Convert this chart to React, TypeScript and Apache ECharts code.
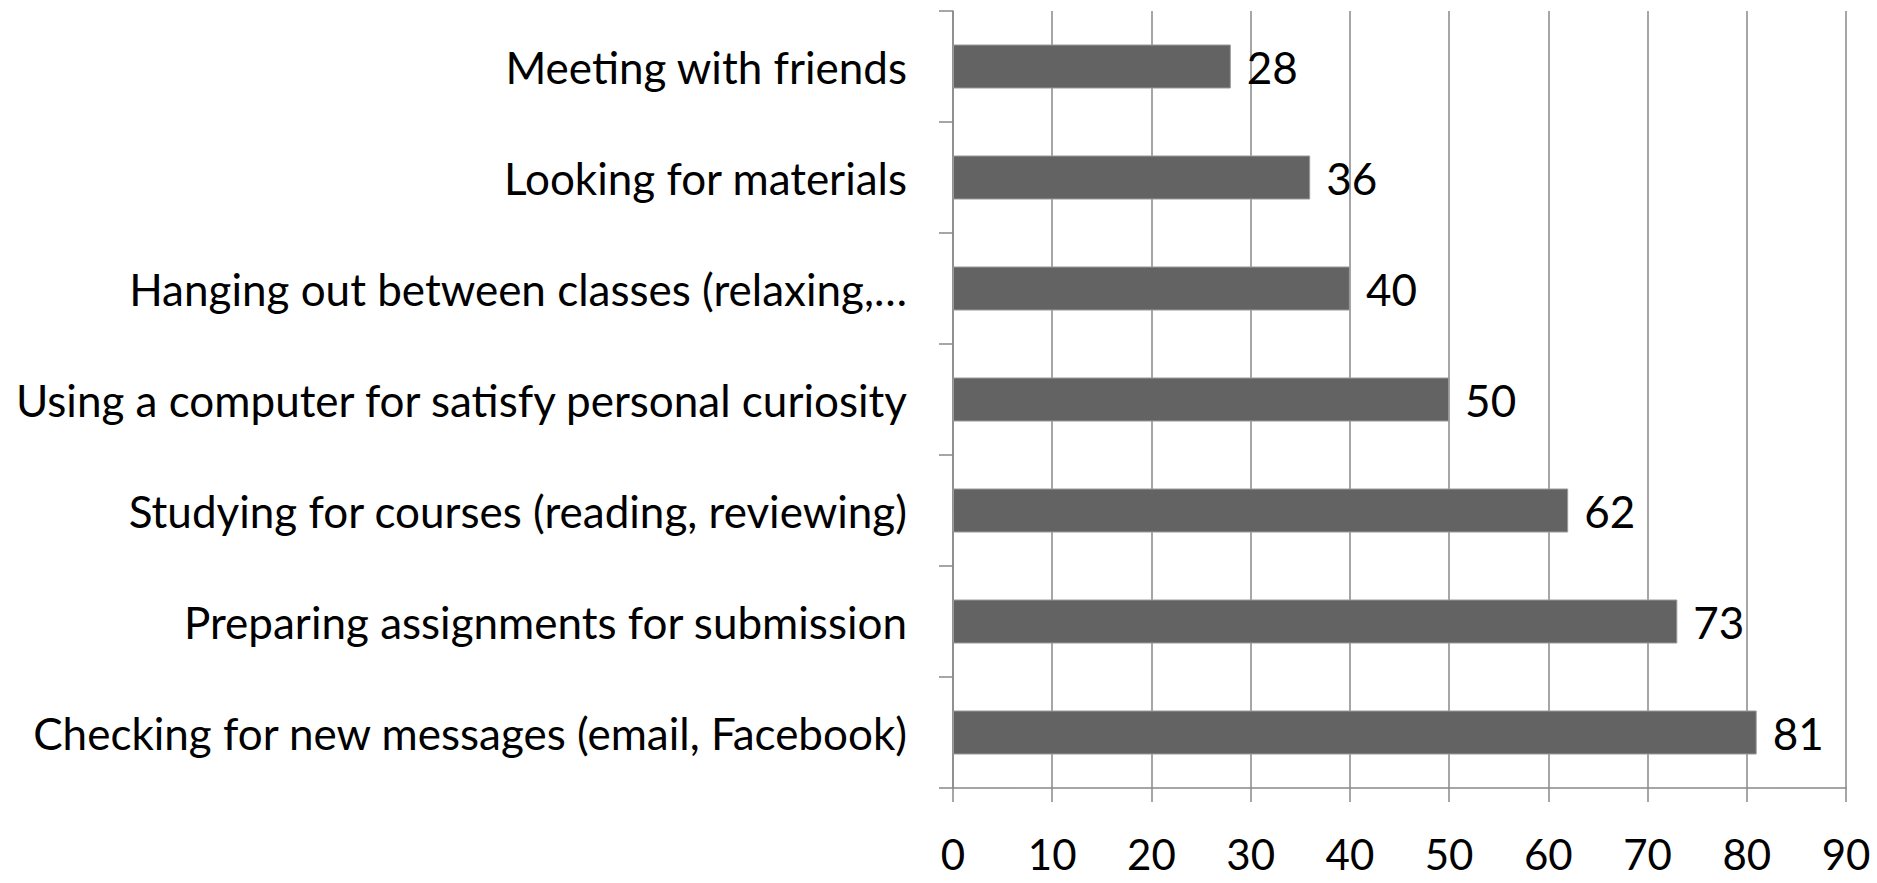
import React, { useEffect, useRef } from "react";
import * as echarts from "echarts";

const categories = [
  "Meeting with friends",
  "Looking for materials",
  "Hanging out between classes (relaxing,…",
  "Using a computer for satisfy personal curiosity",
  "Studying for courses (reading, reviewing)",
  "Preparing assignments for submission",
  "Checking for new messages (email, Facebook)",
];
const values = [28, 36, 40, 50, 62, 73, 81];
const xMin = 0;
const xMax = 90;
const xStep = 10;

const FONT = "Lato";
const GRID_COLOR = "#888888";
const FS = 44;

export default function App() {
  const ref = useRef<HTMLDivElement>(null);
  useEffect(() => {
    if (!ref.current) return;
    const chart = echarts.init(ref.current, undefined, { renderer: "svg" });
    chart.setOption({
      animation: false,
      backgroundColor: "#ffffff",
      grid: { left: 953, right: 31, top: 11, bottom: 95, containLabel: false },
      xAxis: {
        type: "value",
        min: xMin,
        max: xMax,
        interval: xStep,
        axisLine: { show: true, lineStyle: { color: GRID_COLOR, width: 1.5 } },
        axisTick: { show: true, length: 14, lineStyle: { color: GRID_COLOR, width: 1.5 } },
        splitLine: { show: true, lineStyle: { color: GRID_COLOR, width: 1.5 } },
        axisLabel: {
          color: "#000",
          fontFamily: FONT,
          fontSize: 42,
          lineHeight: 40,
          margin: 46,
        },
      },
      yAxis: {
        type: "category",
        inverse: true,
        data: categories,
        axisLine: { show: true, lineStyle: { color: GRID_COLOR, width: 1.5 } },
        axisTick: { show: true, length: 14, alignWithLabel: false, lineStyle: { color: GRID_COLOR, width: 1.5 } },
        splitLine: { show: false },
        axisLabel: { color: "#000", fontFamily: FONT, fontSize: FS, margin: 46 },
      },
      series: [
        {
          type: "bar",
          data: values,
          barWidth: 44,
          itemStyle: { color: "#636363", borderColor: "#9a9a9a", borderWidth: 1 },
          label: {
            show: true,
            position: "right",
            distance: 16,
            color: "#000",
            fontFamily: FONT,
            fontSize: FS,
          },
        },
      ],
    });
    return () => chart.dispose();
  }, []);
  return (
    <div
      ref={ref}
      style={{ position: "fixed", left: 0, top: 0, width: 1877, height: 883, background: "#fff" }}
    />
  );
}
